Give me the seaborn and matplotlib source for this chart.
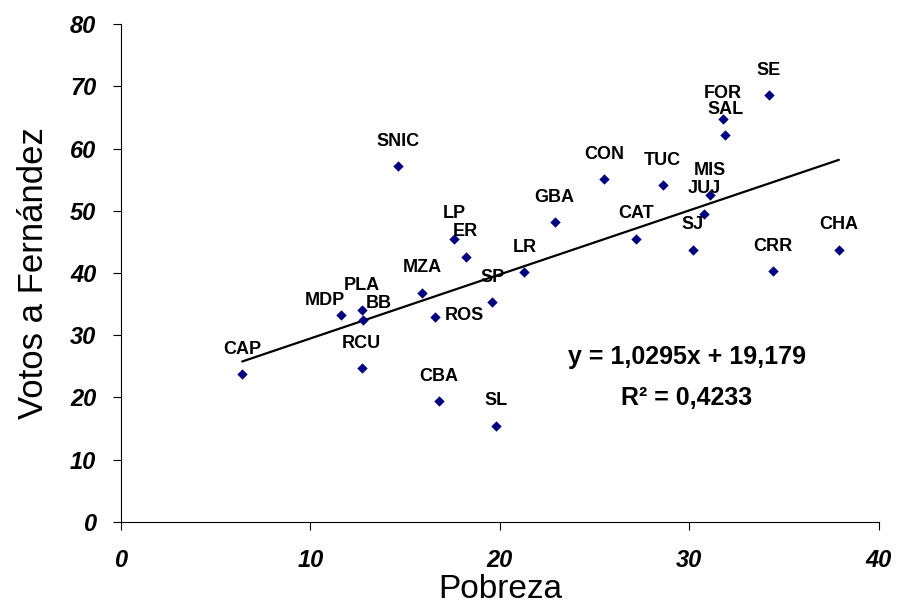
import numpy as np
import pandas as pd
import matplotlib
matplotlib.use("Agg")
import matplotlib.pyplot as plt
import seaborn as sns

# datos
provincias = ["CAP", "MDP", "PLA", "BB", "RCU", "SNIC", "MZA", "ROS", "LP", "ER",
              "CBA", "SP", "SL", "LR", "GBA", "CON", "CAT", "TUC", "SJ", "JUJ",
              "MIS", "FOR", "SAL", "SE", "CRR", "CHA"]
pobreza = [6.4, 11.6, 12.7, 12.8, 12.7, 14.6, 15.9, 16.6, 17.6, 18.2,
           16.8, 19.6, 19.8, 21.3, 22.9, 25.5, 27.2, 28.6, 30.2, 30.8,
           31.1, 31.8, 31.9, 34.2, 34.4, 37.9]
votos = [23.7, 33.2, 34.0, 32.4, 24.7, 57.2, 36.8, 32.9, 45.5, 42.6,
         19.4, 35.3, 15.4, 40.1, 48.2, 55.1, 45.5, 54.1, 43.7, 49.5,
         52.5, 64.8, 62.2, 68.6, 40.3, 43.7]

# recta de tendencia y R2 tal como figuran en el grafico
pendiente = 1.0295
ordenada = 19.179
r2 = 0.4233

df = pd.DataFrame({"Pobreza": pobreza, "Votos": votos, "Prov": provincias})

sns.set_style("ticks")
plt.rcParams["font.family"] = ["Liberation Sans", "DejaVu Sans"]
plt.rcParams.update({
    "text.color": "black",
    "axes.labelcolor": "black",
    "xtick.color": "black",
    "ytick.color": "black",
})

fig = plt.figure(figsize=(9.03, 6.07), dpi=100)
ax = fig.add_axes([0.134, 0.1405, 0.839, 0.8195])

x_fit = np.array([df["Pobreza"].min(), df["Pobreza"].max()])
y_fit = pendiente * x_fit + ordenada
sns.lineplot(x=x_fit, y=y_fit, color="black", linewidth=1.6, ax=ax)

sns.scatterplot(data=df, x="Pobreza", y="Votos", marker="D", color="#000080",
                s=28, linewidth=0, ax=ax, zorder=3)

# etiquetas de cada punto (algunas movidas a mano en el original)
desplaz = {"MDP": (-16, 15), "BB": (15, 17), "ROS": (29, 2)}
for _, row in df.iterrows():
    dx, dy = desplaz.get(row["Prov"], (0, 25))
    ax.annotate(row["Prov"], (row["Pobreza"], row["Votos"]), xytext=(dx, dy),
                textcoords="offset pixels", ha="center", va="center",
                fontsize=13, fontweight="bold", color="black")

ax.text(0.747, 0.331, f"y = {pendiente:.4f}x + {ordenada:.3f}".replace(".", ","),
        transform=ax.transAxes, ha="center", va="center",
        fontsize=18, fontweight="bold")
ax.text(0.747, 0.249, f"R² = {r2:.4f}".replace(".", ","),
        transform=ax.transAxes, ha="center", va="center",
        fontsize=18, fontweight="bold")

ax.set_xlim(0, 40)
ax.set_ylim(0, 80)
ax.set_xticks([0, 10, 20, 30, 40])
ax.set_yticks(range(0, 81, 10))
for lab in ax.get_xticklabels() + ax.get_yticklabels():
    lab.set_fontweight("bold")
    lab.set_fontstyle("italic")
    lab.set_fontsize(17)
ax.tick_params(axis="both", direction="out", length=5.8, width=0.8, color="black")
ax.tick_params(axis="x", pad=14)
ax.tick_params(axis="y", pad=12)

ax.set_xlabel("Pobreza", fontsize=24)
ax.set_ylabel("Votos a Fernández", fontsize=25)
ax.xaxis.label.set_va("center")
ax.yaxis.label.set_va("center")
ax.xaxis.set_label_coords(0.5, -0.137)
ax.yaxis.set_label_coords(-0.116, 0.5)

sns.despine(ax=ax)
for sp in ["left", "bottom"]:
    ax.spines[sp].set_color("black")
    ax.spines[sp].set_linewidth(0.8)

fig.savefig("out.png", dpi=100)
